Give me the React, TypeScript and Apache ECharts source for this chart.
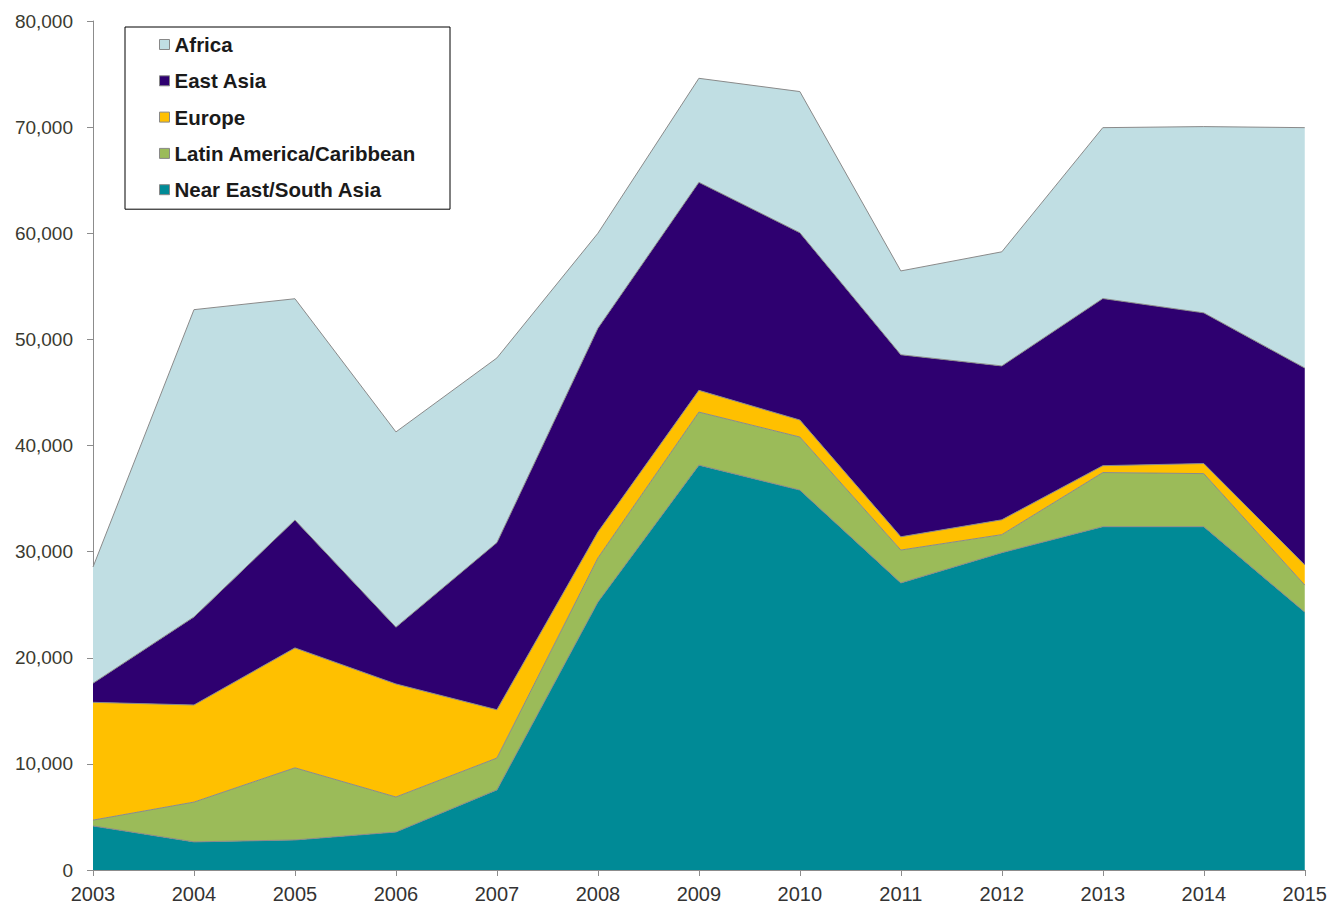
import React, { useEffect, useRef } from "react";
import * as echarts from "echarts";

const years = ["2003","2004","2005","2006","2007","2008","2009","2010","2011","2012","2013","2014","2015"];
const nearEastSouthAsia = [4150, 2650, 2830, 3580, 7550, 25250, 38150, 35800, 27050, 29900, 32350, 32350, 24300];
const latinAmerica = [550, 3750, 6800, 3300, 3000, 4150, 5000, 5000, 3100, 1700, 5100, 5000, 2550];
const europe = [11100, 9150, 11300, 10650, 4550, 2450, 2050, 1600, 1250, 1400, 650, 950, 1900];
const eastAsia = [1800, 8300, 12050, 5350, 15750, 19200, 19600, 17650, 17150, 14500, 15750, 14200, 18550];
const africa = [10950, 28950, 20850, 18400, 17400, 8950, 9800, 13300, 7900, 10750, 16100, 17550, 22650];

const seriesNames = ["Near East/South Asia", "Latin America/Caribbean", "Europe", "East Asia", "Africa"];
const legendOrder = ["Africa", "East Asia", "Europe", "Latin America/Caribbean", "Near East/South Asia"];
const colors = ["#008A96", "#9BBB59", "#FFC000", "#2E0070", "#C0DEE3"];
const seriesData = [nearEastSouthAsia, latinAmerica, europe, eastAsia, africa];

export default function App() {
  const ref = useRef<HTMLDivElement>(null);
  useEffect(() => {
    if (!ref.current) return;
    const chart = echarts.init(ref.current, null, { renderer: "svg" });
    chart.setOption({
      animation: false,
      grid: { left: 93, right: 23, top: 21, bottom: 35, containLabel: false },
      legend: {
        orient: "vertical",
        left: 125,
        top: 27,
        data: legendOrder,
        backgroundColor: "#ffffff",
        borderColor: "#000000",
        borderWidth: 1,
        padding: [7, 34, 9, 34],
        itemWidth: 10,
        itemHeight: 10,
        itemGap: 15.3,
        icon: "rect",
        itemStyle: { borderColor: "#888888", borderWidth: 1 },
        textStyle: {
          fontFamily: "Liberation Sans, Arial, sans-serif",
          fontSize: 20.5,
          fontWeight: "bold",
          color: "#1a1a1a",
          lineHeight: 20,
        },
        selectedMode: false,
      },
      xAxis: {
        type: "category",
        data: years,
        boundaryGap: false,
        axisLine: { lineStyle: { color: "#8c8c8c", width: 1 } },
        axisTick: { show: true, length: 6, lineStyle: { color: "#8c8c8c" } },
        axisLabel: {
          fontFamily: "Liberation Sans, Arial, sans-serif",
          fontSize: 20,
          color: "#333333",
          margin: 14,
        },
        splitLine: { show: false },
      },
      yAxis: {
        type: "value",
        min: 0,
        max: 80000,
        interval: 10000,
        axisLine: { show: true, lineStyle: { color: "#8c8c8c", width: 1 } },
        axisTick: { show: true, length: 6, lineStyle: { color: "#8c8c8c" } },
        axisLabel: {
          fontFamily: "Liberation Sans, Arial, sans-serif",
          fontSize: 19,
          color: "#3a3a30",
          margin: 20,
          formatter: (v: number) => v.toLocaleString("en-US"),
        },
        splitLine: { show: false },
      },
      series: seriesNames.map((name, i) => ({
        name,
        type: "line",
        stack: "total",
        data: seriesData[i],
        showSymbol: false,
        symbol: "none",
        lineStyle: { color: "#8a8a8a", width: 1 },
        itemStyle: { color: colors[i] },
        areaStyle: { color: colors[i], opacity: 1 },
        z: 2,
      })),
    });
    return () => chart.dispose();
  }, []);
  return <div ref={ref} style={{ width: 1330, height: 905, position: "absolute", left: 0, top: 0, background: "#fff" }} />;
}
